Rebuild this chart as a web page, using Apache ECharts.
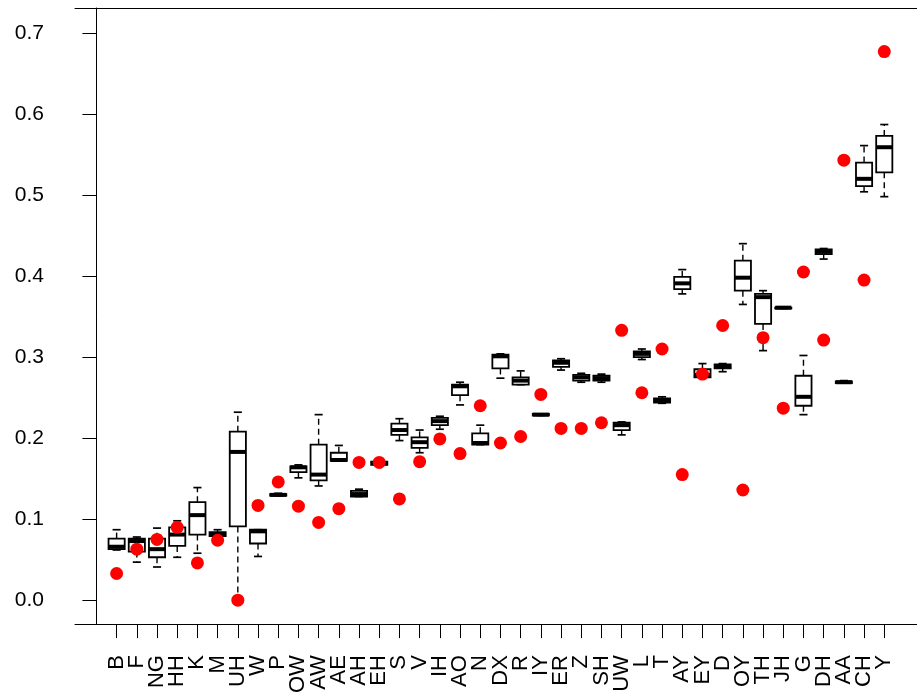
<!DOCTYPE html>
<html>
<head>
<meta charset="utf-8">
<script src="https://cdn.jsdelivr.net/npm/echarts@6/dist/echarts.min.js"></script>
<style>
html,body{margin:0;padding:0;background:#fff;}
#chart{width:917px;height:696px;}
</style>
</head>
<body>
<div id="chart"></div>
<script>
const categories = ['B','F','NG','HH','K','M','UH','W','P','OW','AW','AE','AH','EH','S','V','IH','AO','N','DX','R','IY','ER','Z','SH','UW','L','T','AY','EY','D','OY','TH','JH','G','DH','AA','CH','Y'];
const lowWhisker  = [0.062,0.047,0.041,0.053,0.058,0.078,0.000,0.054,0.129,0.151,0.141,0.172,0.128,0.167,0.197,0.182,0.211,0.241,0.192,0.274,0.266,0.228,0.284,0.269,0.269,0.204,0.297,0.243,0.378,0.274,0.282,0.365,0.308,0.360,0.229,0.421,0.268,0.504,0.498];
const q1          = [0.063,0.060,0.053,0.067,0.081,0.079,0.091,0.070,0.129,0.158,0.148,0.172,0.128,0.167,0.204,0.188,0.216,0.253,0.192,0.286,0.266,0.228,0.288,0.271,0.271,0.210,0.300,0.244,0.384,0.275,0.286,0.382,0.341,0.360,0.240,0.427,0.268,0.511,0.528];
const median      = [0.066,0.073,0.063,0.081,0.105,0.081,0.183,0.085,0.130,0.164,0.155,0.173,0.131,0.169,0.210,0.195,0.221,0.264,0.194,0.301,0.271,0.229,0.293,0.275,0.274,0.216,0.304,0.246,0.391,0.278,0.289,0.398,0.374,0.361,0.251,0.430,0.269,0.520,0.559];
const q3          = [0.076,0.076,0.076,0.090,0.121,0.084,0.208,0.087,0.131,0.165,0.192,0.182,0.135,0.171,0.218,0.201,0.225,0.266,0.206,0.303,0.275,0.230,0.296,0.278,0.277,0.219,0.307,0.249,0.399,0.285,0.291,0.419,0.378,0.361,0.277,0.433,0.270,0.540,0.573];
const highWhisker = [0.087,0.078,0.089,0.098,0.139,0.087,0.232,0.087,0.132,0.167,0.229,0.191,0.137,0.171,0.224,0.210,0.227,0.269,0.216,0.304,0.283,0.230,0.298,0.280,0.279,0.220,0.310,0.251,0.408,0.292,0.292,0.440,0.382,0.362,0.302,0.434,0.271,0.561,0.587];
const redValues   = [0.033,0.063,0.075,0.090,0.046,0.074,0.000,0.117,0.146,0.116,0.096,0.113,0.170,0.170,0.125,0.171,0.199,0.181,0.240,0.194,0.202,0.254,0.212,0.212,0.219,0.333,0.256,0.310,0.155,0.279,0.339,0.136,0.324,0.237,0.405,0.321,0.543,0.395,0.677];
const yTicks = [0,0.1,0.2,0.3,0.4,0.5,0.6,0.7];

const positions = categories.map((c,i)=>i+1);
const oddPositions = positions.filter(p=>p%2===1);
const evenPositions = positions.filter(p=>p%2===0);
const boxData = categories.map((c,i)=>[i+1, lowWhisker[i], q1[i], median[i], q3[i], highWhisker[i]]);
const redData = categories.map((c,i)=>[i+1, redValues[i]]);

const FONT = "'Liberation Sans', Arial, Helvetica, sans-serif";
const XMIN = -1.06, XMAX = 40.62;
const chart = echarts.init(document.getElementById('chart'), null, {renderer:'canvas'});

function renderBox(params, api){
  const x = api.value(0);
  const lo = api.coord([x, api.value(1)]);
  const a  = api.coord([x, api.value(2)]);
  const m  = api.coord([x, api.value(3)]);
  const b  = api.coord([x, api.value(4)]);
  const hi = api.coord([x, api.value(5)]);
  const cx = lo[0];
  const hb = api.size([0.4, 0])[0];
  const hc = api.size([0.2, 0])[0];
  const dash = {stroke:'#000', lineWidth:1.4, lineDash:[6,4], fill:null};
  const solid = {stroke:'#000', lineWidth:1.7, fill:null};
  return {
    type:'group',
    children:[
      {type:'line', shape:{x1:cx,y1:b[1],x2:cx,y2:hi[1]}, style:dash},
      {type:'line', shape:{x1:cx,y1:a[1],x2:cx,y2:lo[1]}, style:dash},
      {type:'line', shape:{x1:cx-hc,y1:hi[1],x2:cx+hc,y2:hi[1]}, style:solid},
      {type:'line', shape:{x1:cx-hc,y1:lo[1],x2:cx+hc,y2:lo[1]}, style:solid},
      {type:'rect', shape:{x:cx-hb,y:b[1],width:2*hb,height:a[1]-b[1]}, style:{fill:'#fff',stroke:'#000',lineWidth:1.8}},
      {type:'line', shape:{x1:cx-hb,y1:m[1],x2:cx+hb,y2:m[1]}, style:{stroke:'#000',lineWidth:4,lineCap:'butt'}}
    ]
  };
}

function labelAxis(vals){
  return {
    type:'value', position:'bottom', min:XMIN, max:XMAX, offset:0,
    axisLine:{show:false},
    axisTick:{show:false},
    axisLabel:{show:true, rotate:90, margin:31, customValues:vals, color:'#000', fontSize:22, fontFamily:FONT,
      showMinLabel:true, showMaxLabel:true, hideOverlap:false,
      formatter:function(v){ const i=Math.round(v)-1; return categories[i]||''; }},
    splitLine:{show:false}
  };
}

chart.setOption({
  animation:false,
  backgroundColor:'#fff',
  grid:{left:75, right:0, top:8, bottom:69, show:false},
  xAxis:[{
    type:'value', position:'bottom', min:XMIN, max:XMAX,
    axisLine:{show:true, onZero:false, lineStyle:{color:'#000', width:1}},
    axisTick:{show:true, length:14, customValues:positions, lineStyle:{color:'#000', width:1}},
    axisLabel:{show:false},
    splitLine:{show:false}
  },{
    type:'value', position:'top', min:XMIN, max:XMAX,
    axisLine:{show:true, onZero:false, lineStyle:{color:'#000', width:1}},
    axisTick:{show:false}, axisLabel:{show:false}, splitLine:{show:false}
  },
  labelAxis(oddPositions),
  labelAxis(evenPositions)
  ],
  yAxis:{
    type:'value', min:-0.0295, max:0.7308,
    axisLine:{show:true, lineStyle:{color:'#000', width:1}},
    axisTick:{show:true, length:14, customValues:yTicks, lineStyle:{color:'#000', width:1}},
    axisLabel:{show:true, margin:31, customValues:yTicks, color:'#000', fontSize:21, fontFamily:FONT,
      showMinLabel:true, showMaxLabel:true,
      formatter:function(v){ return v.toFixed(1); }},
    splitLine:{show:false}
  },
  series:[
    {type:'custom', renderItem:renderBox, data:boxData, encode:{x:0, y:[1,2,3,4,5]}, clip:false, z:2},
    {type:'scatter', data:redData, symbol:'circle', symbolSize:13, itemStyle:{color:'#ff0000', opacity:1}, z:3}
  ]
});
</script>
</body>
</html>
